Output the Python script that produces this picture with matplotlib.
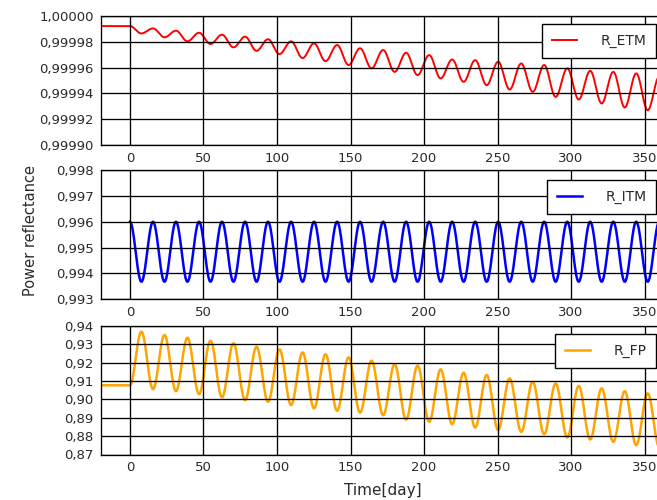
import numpy as np
import matplotlib
matplotlib.use('Agg')
import matplotlib.pyplot as plt
from matplotlib.ticker import FuncFormatter

# extrema of the three curves (day, value)
days = [0.0, 7.8, 15.7, 23.5, 31.3, 39.1, 47.0, 54.8, 62.6, 70.4,
        78.3, 86.1, 93.9, 101.7, 109.6, 117.4, 125.2, 133.0, 140.9, 148.7,
        156.5, 164.3, 172.2, 180.0, 187.8, 195.6, 203.5, 211.3, 219.1, 226.9,
        234.8, 242.6, 250.4, 258.2, 266.1, 273.9, 281.7, 289.5, 297.4, 305.2,
        313.0, 320.8, 328.7, 336.5, 344.3, 352.1, 360.0, 367.8]

r_etm = [0.9999922, 0.9999865, 0.9999904, 0.9999835, 0.9999886, 0.9999804,
         0.9999870, 0.9999783, 0.9999855, 0.9999757, 0.9999840, 0.9999730,
         0.9999820, 0.9999705, 0.9999804, 0.9999674, 0.9999788, 0.9999650,
         0.9999775, 0.9999620, 0.9999750, 0.9999594, 0.9999736, 0.9999567,
         0.9999715, 0.9999542, 0.9999697, 0.9999516, 0.9999663, 0.9999490,
         0.9999658, 0.9999464, 0.9999645, 0.9999430, 0.9999632, 0.9999412,
         0.9999620, 0.9999373, 0.9999594, 0.9999353, 0.9999575, 0.9999322,
         0.9999567, 0.9999291, 0.9999555, 0.9999270, 0.9999530, 0.9999250]

r_itm = [0.9960, 0.99368, 0.9960, 0.99368, 0.9960, 0.99368, 0.9960, 0.99368,
         0.9960, 0.99368, 0.9960, 0.99368, 0.9960, 0.99368, 0.9960, 0.99368,
         0.9960, 0.99368, 0.9960, 0.99368, 0.9960, 0.99368, 0.9960, 0.99368,
         0.9960, 0.99368, 0.9960, 0.99368, 0.9960, 0.99368, 0.9960, 0.99368,
         0.9960, 0.99368, 0.9960, 0.99368, 0.9960, 0.99368, 0.9960, 0.99368,
         0.9960, 0.99368, 0.9960, 0.99368, 0.9960, 0.99368, 0.9960, 0.99368]

r_fp = [0.9077, 0.9369, 0.9056, 0.9351, 0.9045, 0.9336, 0.9029, 0.9320,
        0.9011, 0.9306, 0.8996, 0.9287, 0.8987, 0.9273, 0.8969, 0.9256,
        0.8951, 0.9246, 0.8938, 0.9229, 0.8928, 0.9211, 0.8914, 0.9192,
        0.8890, 0.9184, 0.8878, 0.9164, 0.8865, 0.9145, 0.8847, 0.9133,
        0.8833, 0.9115, 0.8823, 0.9096, 0.8811, 0.9087, 0.8793, 0.9073,
        0.8782, 0.9060, 0.8769, 0.9045, 0.8751, 0.9033, 0.8740, 0.9020]

# constant level before day 0
lead_day = -20
etm_lead = 0.9999922
fp_lead = 0.9077

x_ticks = [0, 50, 100, 150, 200, 250, 300, 350]


def smooth(t, v, n=30):
    """Smooth line through the extrema (half-cosine between neighbours)."""
    xs, ys = [], []
    for i in range(len(t) - 1):
        s = np.linspace(0, 1, n, endpoint=False)
        xs.append(t[i] + (t[i + 1] - t[i]) * s)
        ys.append(v[i] + (v[i + 1] - v[i]) * (1 - np.cos(np.pi * s)) / 2)
    xs.append([t[-1]])
    ys.append([v[-1]])
    return np.concatenate(xs), np.concatenate(ys)


def comma_fmt(decimals):
    return FuncFormatter(lambda y, pos: f"{y:.{decimals}f}".replace('.', ','))


fig = plt.figure(figsize=(6.57, 5.0), dpi=100)

left, width = 0.153, 0.855
ax1 = fig.add_axes([left, 0.710, width, 0.258])
ax2 = fig.add_axes([left, 0.4014, width, 0.2586])
ax3 = fig.add_axes([left, 0.091, width, 0.257])

panels = [
    (ax1, [lead_day] + days, [etm_lead] + r_etm, 'red', 1.4, 'R_ETM',
     (0.99990, 1.00000), np.arange(0.99990, 1.000001, 0.00002), 5, 0.935),
    (ax2, days, r_itm, 'blue', 1.8, 'R_ITM',
     (0.993, 0.998), np.arange(0.993, 0.99801, 0.001), 3, 0.922),
    (ax3, [lead_day] + days, [fp_lead] + r_fp, 'orange', 1.8, 'R_FP',
     (0.87, 0.94), np.arange(0.87, 0.9401, 0.01), 2, 0.935),
]

for ax, t, v, color, lw, label, ylim, yticks, dec, leg_top in panels:
    x, y = smooth(t, v)
    ax.plot(x, y, color=color, lw=lw, label=label)
    ax.set_xlim(-20, 362)
    ax.set_ylim(*ylim)
    ax.set_xticks(x_ticks)
    ax.set_yticks(yticks)
    ax.yaxis.set_major_formatter(comma_fmt(dec))
    ax.grid(True, color='black', linewidth=0.95, linestyle='-')
    ax.set_axisbelow(False)
    for sp in ax.spines.values():
        sp.set_color('black')
        sp.set_linewidth(0.95)
    ax.tick_params(length=0, labelsize=9.5, labelcolor='#2a2a2a', pad=5)
    leg = ax.legend(loc='upper right', bbox_to_anchor=(0.989, leg_top),
                    borderaxespad=0, fontsize=10, handlelength=1.8,
                    handletextpad=1.7, borderpad=0.7, fancybox=False,
                    framealpha=1, edgecolor='black')
    leg.get_frame().set_linewidth(1.0)
    for txt in leg.get_texts():
        txt.set_color('#2a2a2a')

fig.text(0.046, 0.54, 'Power reflectance', rotation=90, ha='center',
         va='center', fontsize=10.5, color='#2a2a2a')
fig.text(0.583, 0.02, 'Time[day]', ha='center', va='center',
         fontsize=11, color='#2a2a2a')

fig.savefig('out.png', dpi=100)
